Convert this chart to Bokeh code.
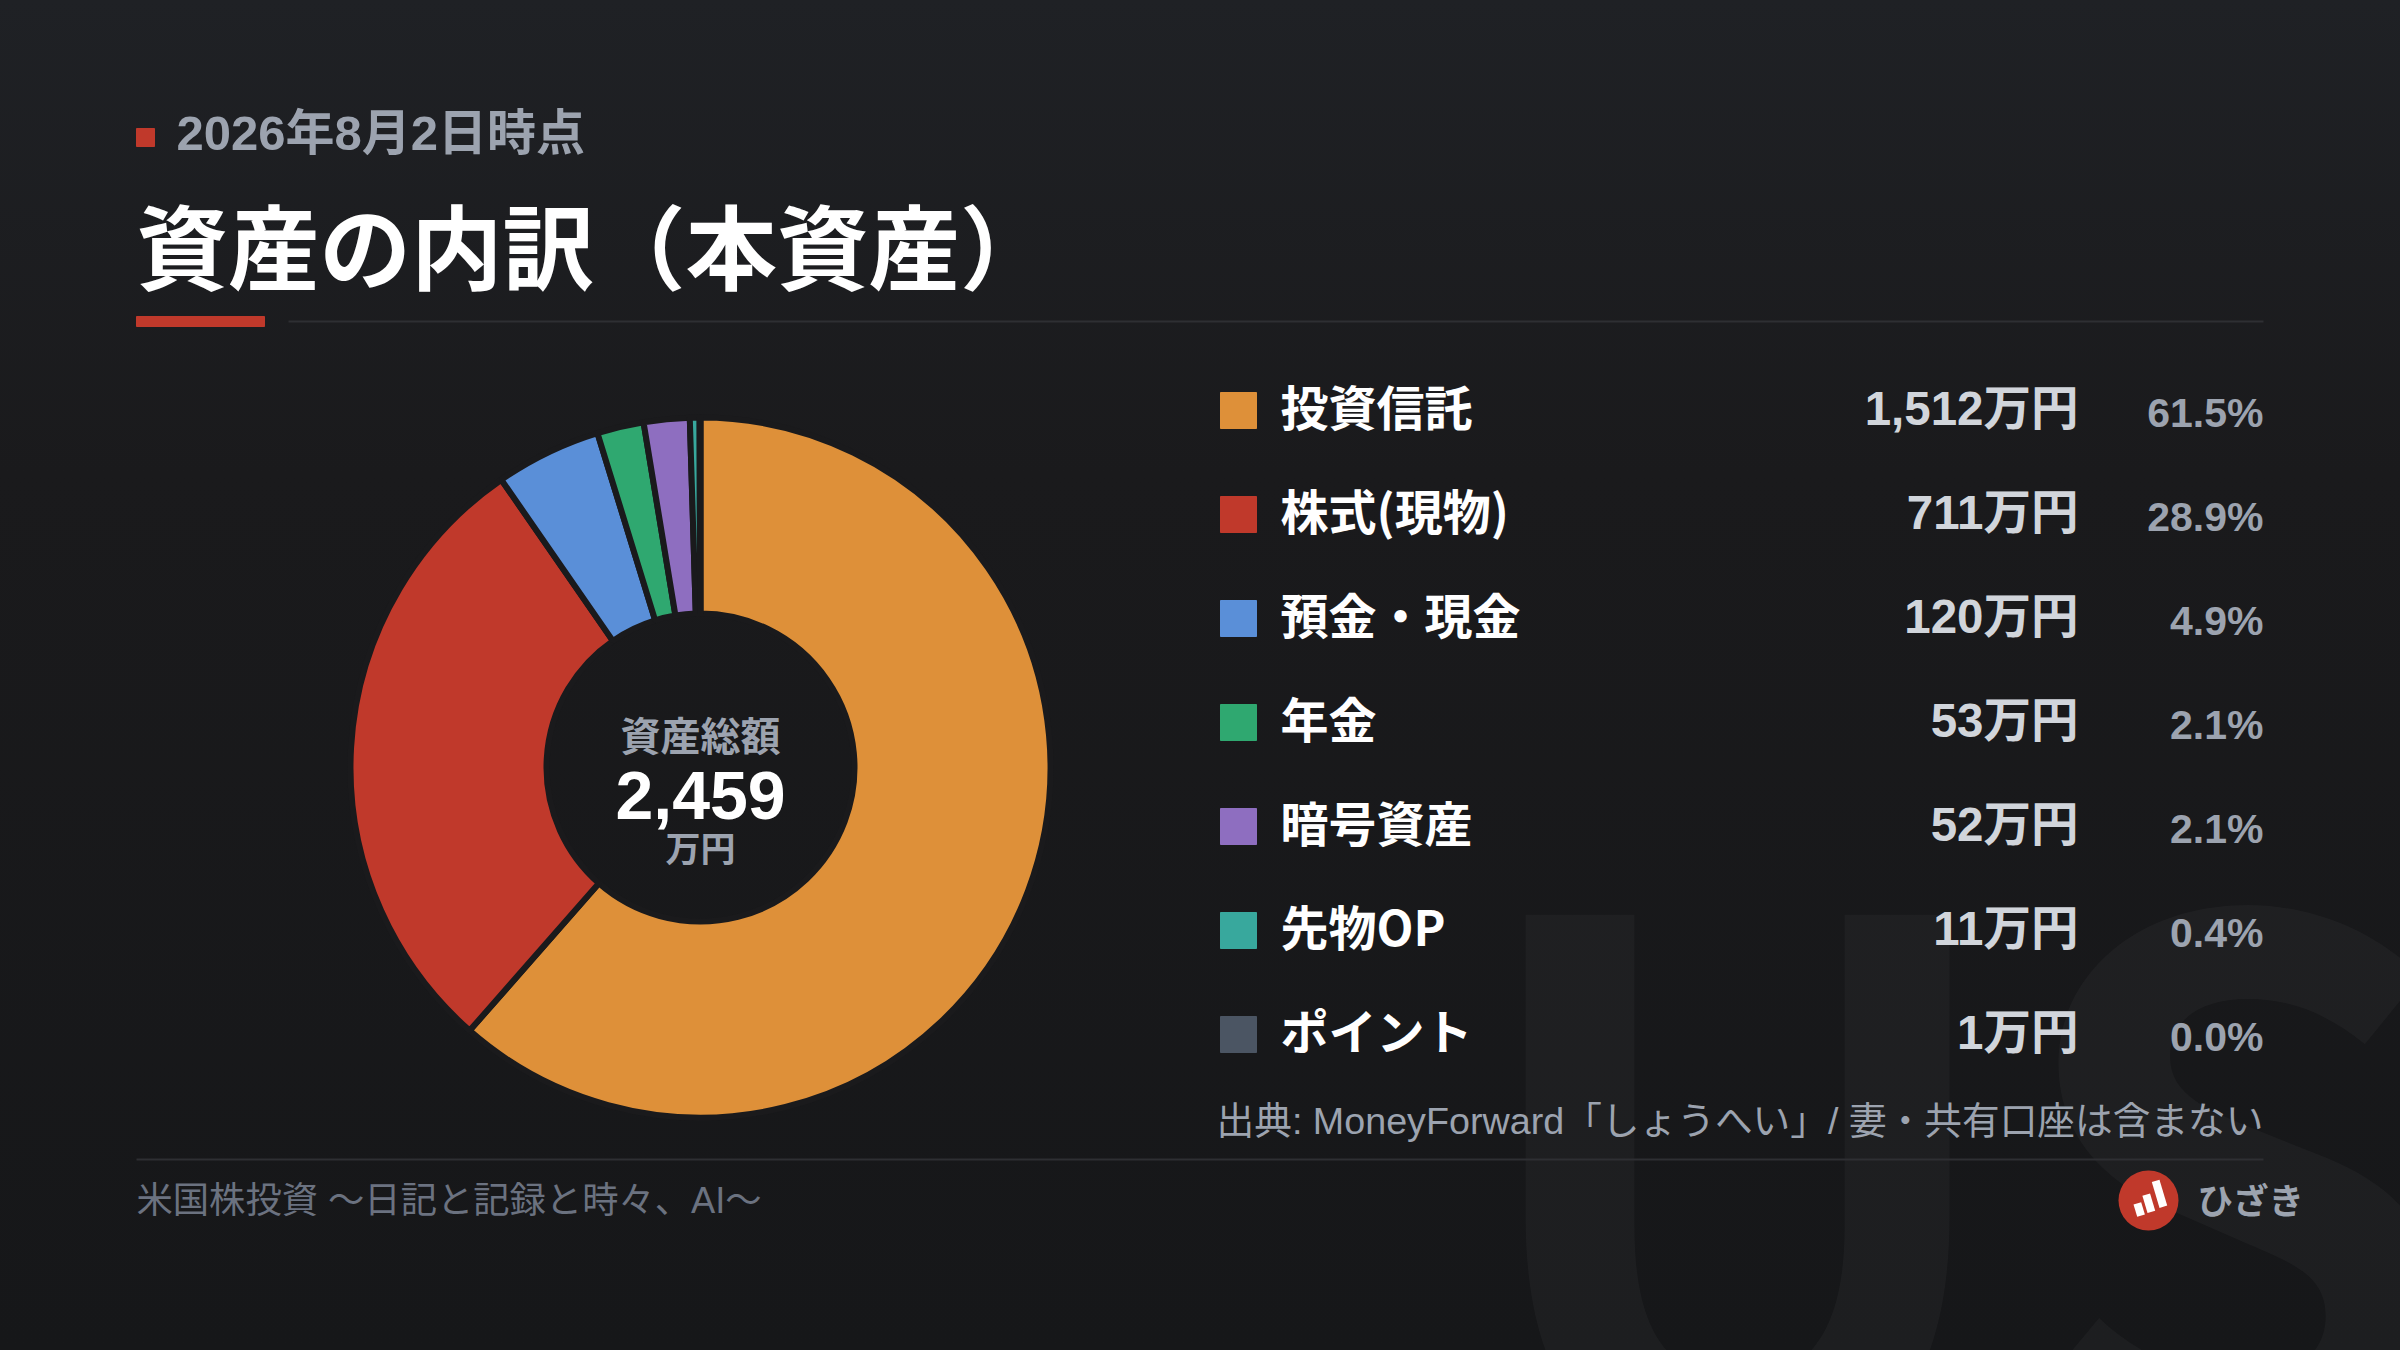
import math
from bokeh.core.properties import value
from bokeh.embed import file_html
from bokeh.models import ColumnDataSource, Range1d
from bokeh.plotting import figure
from bokeh.resources import INLINE

# data
categories = ["投資信託", "株式(現物)", "預金・現金", "年金", "暗号資産", "先物OP", "ポイント"]
amounts = [1512, 711, 120, 53, 52, 11, 1]
percents = ["61.5%", "28.9%", "4.9%", "2.1%", "2.1%", "0.4%", "0.0%"]
colors = ["#de9039", "#c0392b", "#5a8fd8", "#2fa870", "#8e6ec0", "#38a89d", "#4b5563"]
total_label = "2,459"

date_label = "2026年8月2日時点"
title_label = "資産の内訳（本資産）"
source_label = "出典: MoneyForward「しょうへい」/ 妻・共有口座は含まない"
blog_label = "米国株投資 〜日記と記録と時々、AI〜"
author_label = "ひざき"

JP = value("Noto Sans CJK JP")
MIXED = value("Liberation Sans, Noto Sans CJK JP")
RED = "#c0392b"
HOLE = "#1a1a1c"

# the page gradient sits behind a transparent figure
TEMPLATE = """{% block postamble %}
<style>
html { height: 100%; background: linear-gradient(180deg, #1f2125 0%, #1a1a1c 35%, #161719 100%); overflow: hidden; }
body { background: transparent; margin: 0; }
</style>
{% endblock %}
"""

p = figure(width=2400, height=1350, output_backend="svg", toolbar_location=None,
           x_range=Range1d(0, 2400), y_range=Range1d(1350, 0), min_border=0)
p.axis.visible = False
p.grid.visible = False
p.outline_line_color = None
p.background_fill_alpha = 0
p.border_fill_alpha = 0


def label(x, y, text, size, color, align="left", bold=True, font=JP, alpha=1.0):
    p.text([x], [y], text=[text], text_font=font, text_font_size=f"{size}px",
           text_font_style="bold" if bold else "normal", text_color=color,
           text_alpha=alpha, text_align=align, text_baseline="middle")


# watermark
label(1460, 1140, "US", 740, "#ffffff", alpha=0.03)

# header
p.quad(left=[136], right=[154], top=[128], bottom=[146], color=RED)
label(176, 132, date_label, 49, "#9ca3af", font=MIXED)
label(136, 242, title_label, 91.5, "#ffffff")
p.quad(left=[136], right=[264], top=[316], bottom=[326], color=RED)
p.line([288, 2263], [321, 321], line_color="#2e2f33", line_width=2)

# donut, clockwise from twelve o'clock
total = sum(amounts)
starts, ends = [], []
running = 0
for a in amounts:
    starts.append(math.pi / 2 - 2 * math.pi * running / total)
    running += a
    ends.append(math.pi / 2 - 2 * math.pi * running / total)
donut = ColumnDataSource(dict(start=starts, end=ends, color=colors, name=categories))
p.annular_wedge(x=700, y=767, inner_radius=154, outer_radius=350, start_angle="start", end_angle="end",
                direction="clock", fill_color="color", line_color=HOLE, line_width=6, source=donut)

label(700, 733, "資産総額", 40, "#9ca3af", align="center")
label(700, 795, total_label, 68, "#ffffff", align="center", font=MIXED)
label(700, 846, "万円", 35, "#9ca3af", align="center")

# legend rows
for i, (name, amount, pct, color) in enumerate(zip(categories, amounts, percents, colors)):
    y = 410 + 104 * i
    p.quad(left=[1220], right=[1256], top=[y - 18], bottom=[y + 18], color=color)
    label(1280, y - 6, name, 48, "#ffffff")
    label(2078, y - 2, f"{amount:,}万円", 47.5, "#d1d5db", align="right", font=MIXED)
    label(2263, y + 2, pct, 41, "#9ca3af", align="right", font=MIXED)

label(2263, 1120, source_label, 37.7, "#9ca3af", align="right", bold=False, font=MIXED)

# footer
p.line([136, 2263], [1159, 1159], line_color="#2e2f33", line_width=2)
label(136, 1200, blog_label, 36.3, "#6b7280", bold=False, font=MIXED)

p.circle(x=[2148], y=[1200], radius=30, fill_color=RED, line_color=None)
p.rect(x=[2138.7, 2148.3, 2159], y=[1209, 1202.7, 1193.3], width=8, height=[13, 18, 27],
       angle=0.29, fill_color="#ffffff", line_color=None)
label(2197, 1198, author_label, 35.5, "#9ca3af")

open("out.html", "w").write(file_html(p, INLINE, template=TEMPLATE))
